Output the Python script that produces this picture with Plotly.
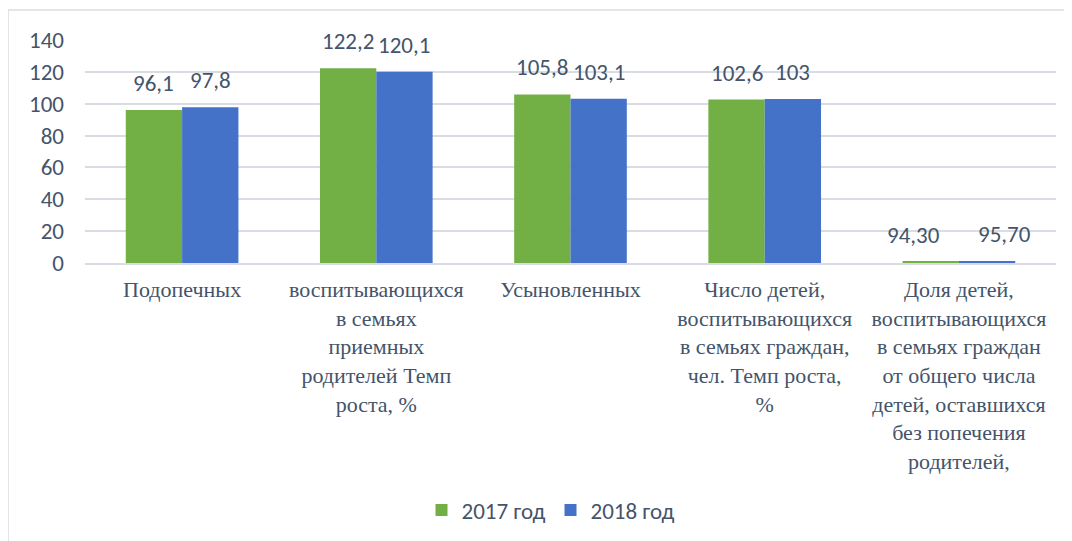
import plotly.graph_objects as go

categories = [
    "Подопечных",
    "воспитывающихся<br>в семьях<br>приемных<br>родителей Темп<br>роста, %",
    "Усыновленных",
    "Число детей,<br>воспитывающихся<br>в семьях граждан,<br>чел. Темп роста,<br>%",
    "Доля детей,<br>воспитывающихся<br>в семьях граждан<br>от общего числа<br>детей, оставшихся<br>без попечения<br>родителей,",
]
series_names = ["2017 год", "2018 год"]
values_2017 = [96.1, 122.2, 105.8, 102.6, 0.943]
values_2018 = [97.8, 120.1, 103.1, 103.0, 0.957]
labels_2017 = ["96,1", "122,2", "105,8", "102,6", "94,30"]
labels_2018 = ["97,8", "120,1", "103,1", "103", "95,70"]
y_ticks = [0, 20, 40, 60, 80, 100, 120, 140]
label_spread = [0, 0, 0, 0, 17]  # extra horizontal spacing of data labels (px)

colors = ["#72AF45", "#4472C8"]
text_color = "#44546A"
num_font = "Calibri, Carlito, Lato, sans-serif"
cat_font = "Times New Roman, Liberation Serif, serif"

# page body has an 8px margin, so the figure is 8px smaller than the window
W, H = 1064, 533
ml, mr, mt, mb = 77, 16, 32, 278

fig = go.Figure()
for name, vals, col in zip(series_names, [values_2017, values_2018], colors):
    fig.add_trace(go.Bar(
        name=name, x=categories, y=vals,
        marker=dict(color=col, line=dict(width=0)),
        hoverinfo="skip",
    ))

plot_w = W - ml - mr
plot_h = H - mt - mb
cat_w = plot_w / len(categories)
bargap = 0.42
bar_w = cat_w * (1 - bargap) / 2
for vals, labs, sign in [(values_2017, labels_2017, -1), (values_2018, labels_2018, 1)]:
    for c, v, t, sp in zip(categories, vals, labs, label_spread):
        fig.add_annotation(
            x=c, y=v, xref="x", yref="y", text=t, showarrow=False,
            xanchor="center", yanchor="bottom",
            xshift=sign * (bar_w / 2 + sp), yshift=11,
            font=dict(family=num_font, size=23, color=text_color),
        )

# chart border (only top and left visible in the frame)
fig.add_shape(
    type="rect", xref="paper", yref="paper",
    x0=(0 - ml) / plot_w, x1=(1090 - ml) / plot_w,
    y0=(H - mb - 560) / plot_h, y1=(H - mb - 2) / plot_h,
    line=dict(color="#D9DDE3", width=1.5), layer="below",
)

fig.update_layout(
    width=W, height=H,
    margin=dict(l=ml, r=mr, t=mt, b=mb, autoexpand=False),
    paper_bgcolor="white", plot_bgcolor="white",
    barmode="group", bargap=bargap, bargroupgap=0,
    showlegend=True,
    legend=dict(
        orientation="h", x=(543 - ml) / plot_w, xanchor="center",
        y=(H - mb - 502) / plot_h, yanchor="middle",
        font=dict(family=num_font, size=23, color=text_color),
        traceorder="normal",
    ),
    xaxis=dict(
        tickfont=dict(family=cat_font, size=22, color=text_color),
        showline=True, linecolor="#D9DDE3", linewidth=1.5,
        ticks="", showgrid=False, ticklabelstandoff=6,
    ),
    yaxis=dict(
        range=[0, 140], tickvals=y_ticks,
        tickfont=dict(family=num_font, size=23, color=text_color),
        showgrid=True, gridcolor="#D9DDE3", gridwidth=1.5,
        zeroline=False, showline=False, ticks="",
        ticklabelstandoff=20,
    ),
)

fig.write_html("out.html")
